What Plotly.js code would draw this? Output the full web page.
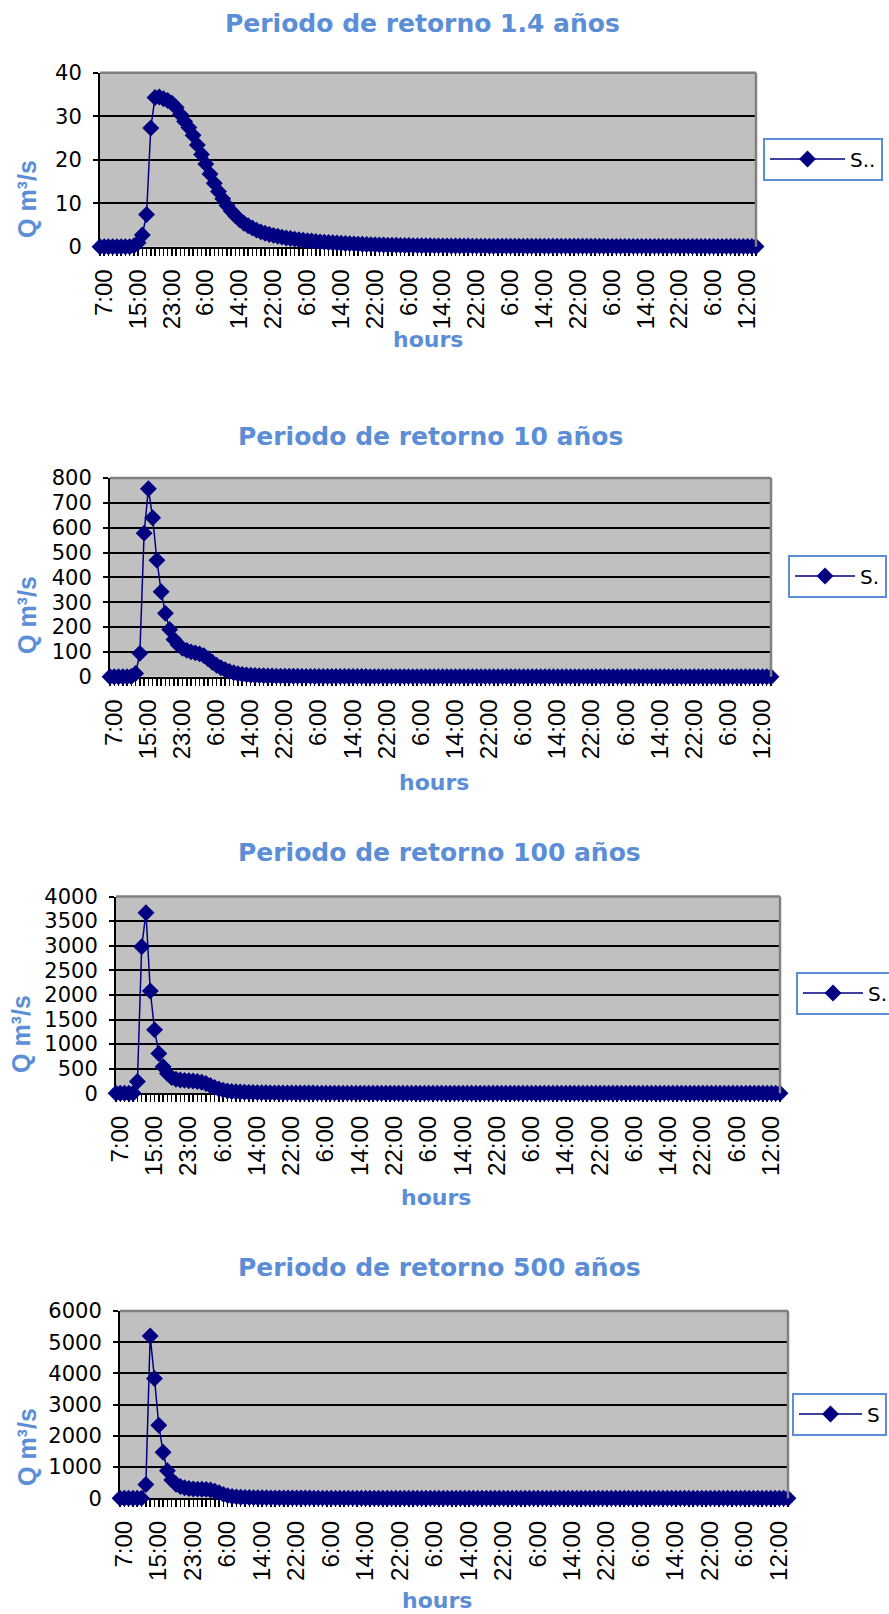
<!DOCTYPE html>
<html>
<head>
<meta charset="utf-8">
<script src="https://cdn.plot.ly/plotly-3.0.1.min.js"></script>
<style>html,body{margin:0;padding:0;background:#fff;overflow:hidden}#chart{width:889px;height:1614px}</style>
</head>
<body>
<div id="chart"></div>
<script>
// ---- data ----
const tickLabels = ['7:00','15:00','23:00','6:00','14:00','22:00','6:00','14:00','22:00','6:00',
                    '14:00','22:00','6:00','14:00','22:00','6:00','14:00','22:00','6:00','12:00'];
const tickStep = 8;

const chartTitles = ['Periodo de retorno 1.4 años','Periodo de retorno 10 años',
                     'Periodo de retorno 100 años','Periodo de retorno 500 años'];
const legendNames = ['S..','S.','S.','S'];
const yTitle = 'Q m³/s';
const xTitle = 'hours';

const q14 = [
 0,0,0,0,0,0,0,0,0.2,0.9,
 2.7,7.4,27.3,34.3,34.4,34.0,33.6,33.0,32.0,30.4,
 28.8,27.4,25.6,23.4,21.2,19.0,16.7,14.6,12.7,11.0,
 9.5,8.2,7.1,6.2,5.4,4.8,4.3,3.8,3.4,3.1,
 2.8,2.6,2.4,2.2,2.0,1.9,1.75,1.6,1.5,1.4,
 1.3,1.2,1.12,1.05,0.98,0.92,0.86,0.8,0.75,0.7,
 0.65,0.6,0.56,0.52,0.48,0.45,0.42,0.39,0.36,0.34,
 0.32,0.3,0.28,0.26,0.25,0.24,0.23,0.22,0.21,0.2,
 0.19,0.18,0.18,0.17,0.16,0.16,0.15,0.15,0.14,0.14,
 0.13,0.13,0.12,0.12,0.12,0.11,0.11,0.11,0.1,0.1,
 0.1,0.1,0.1,0.1,0.1,0.1,0.1,0.1,0.1,0.1,
 0.09,0.09,0.09,0.09,0.09,0.09,0.09,0.09,0.09,0.09,
 0.08,0.08,0.08,0.08,0.08,0.08,0.08,0.08,0.08,0.08,
 0.07,0.07,0.07,0.07,0.07,0.07,0.07,0.07,0.07,0.07,
 0.06,0.06,0.06,0.06,0.06,0.06,0.06,0.06,0.06,0.06,
 0.05,0.05,0.05,0.05,0.05,0.05
];

const q10 = [
 0,0,0,0,0,1,13,94,578,757,
 640,469,342,255,190,150,128,114,106,100,
 96,92,85,72,58,46,36,28,21,16,
 12,9.5,7.5,6,5,4.2,3.6,3.1,2.7,2.4,
 2.2,2.0,1.85,1.7,1.55,1.4,1.3,1.2,1.1,1.0,
 0.95,0.9,0.85,0.8,0.75,0.7,0.66,0.62,0.58,0.55,
 0.52,0.49,0.46,0.44,0.42,0.4,0.38,0.36,0.34,0.32,
 0.3,0.29,0.28,0.27,0.26,0.25,0.24,0.23,0.22,0.21,
 0.2,0.2,0.2,0.2,0.2,0.2,0.2,0.2,0.2,0.2,
 0.18,0.18,0.18,0.18,0.18,0.18,0.18,0.18,0.18,0.18,
 0.16,0.16,0.16,0.16,0.16,0.16,0.16,0.16,0.16,0.16,
 0.14,0.14,0.14,0.14,0.14,0.14,0.14,0.14,0.14,0.14,
 0.12,0.12,0.12,0.12,0.12,0.12,0.12,0.12,0.12,0.12,
 0.1,0.1,0.1,0.1,0.1,0.1,0.1,0.1,0.1,0.1,
 0.1,0.1,0.1,0.1,0.1,0.1,0.1,0.1,0.1,0.1,
 0.1,0.1,0.1,0.1,0.1,0.1
];

const q100 = [
 0,0,0,0,0,240,2980,3670,2080,1290,
 810,540,400,320,285,270,262,256,250,240,
 225,200,160,120,88,64,48,38,31,26,
 22,19,16,14,12,10.5,9.5,8.7,8,7.4,
 6.9,6.4,6,5.6,5.3,5,4.7,4.4,4.2,4,
 3.8,3.6,3.4,3.2,3.0,2.9,2.8,2.7,2.6,2.5,
 2.4,2.3,2.2,2.1,2.0,1.95,1.9,1.85,1.8,1.75,
 1.7,1.7,1.7,1.7,1.7,1.7,1.7,1.7,1.7,1.7,
 1.5,1.5,1.5,1.5,1.5,1.5,1.5,1.5,1.5,1.5,
 1.3,1.3,1.3,1.3,1.3,1.3,1.3,1.3,1.3,1.3,
 1.1,1.1,1.1,1.1,1.1,1.1,1.1,1.1,1.1,1.1,
 1.0,1.0,1.0,1.0,1.0,1.0,1.0,1.0,1.0,1.0,
 0.9,0.9,0.9,0.9,0.9,0.9,0.9,0.9,0.9,0.9,
 0.8,0.8,0.8,0.8,0.8,0.8,0.8,0.8,0.8,0.8,
 0.7,0.7,0.7,0.7,0.7,0.7,0.7,0.7,0.7,0.7,
 0.7,0.7,0.7,0.7,0.7,0.7
];

const q500 = [
 0,0,0,0,0,5,440,5200,3840,2340,
 1475,885,590,450,380,340,315,300,295,290,
 285,265,230,180,125,85,60,45,36,30,
 26,23,20,18,16,14.5,13,12,11,10.2,
 9.5,8.9,8.3,7.8,7.3,6.9,6.5,6.1,5.8,5.5,
 5.2,5,4.8,4.6,4.4,4.2,4,3.9,3.8,3.7,
 3.6,3.5,3.4,3.3,3.2,3.1,3,2.9,2.8,2.7,
 2.6,2.6,2.6,2.6,2.6,2.6,2.6,2.6,2.6,2.6,
 2.4,2.4,2.4,2.4,2.4,2.4,2.4,2.4,2.4,2.4,
 2.2,2.2,2.2,2.2,2.2,2.2,2.2,2.2,2.2,2.2,
 2.0,2.0,2.0,2.0,2.0,2.0,2.0,2.0,2.0,2.0,
 1.8,1.8,1.8,1.8,1.8,1.8,1.8,1.8,1.8,1.8,
 1.6,1.6,1.6,1.6,1.6,1.6,1.6,1.6,1.6,1.6,
 1.4,1.4,1.4,1.4,1.4,1.4,1.4,1.4,1.4,1.4,
 1.2,1.2,1.2,1.2,1.2,1.2,1.2,1.2,1.2,1.2,
 1.2,1.2,1.2,1.2,1.2,1.2
];

const yMax  = [40, 800, 4000, 6000];
const yStep = [10, 100, 500, 1000];
const series = [q14, q10, q100, q500];

// ---- layout geometry (pixels) ----
const W = 889, H = 1614;
const boxes = [
  {l:100, r:756, t:72.7,  b:246.7,  title:[422,23],   ytitle:[27,199],  xtitle:[428,340],  legend:[763,159],  legW:75},
  {l:110, r:771, t:478,   b:676.7,  title:[430,437],  ytitle:[27,615],  xtitle:[434,782],  legend:[788,576],  legW:60},
  {l:116, r:780, t:896.5, b:1093.3, title:[439,852],  ytitle:[21,1034], xtitle:[436,1197], legend:[796,993],  legW:60},
  {l:120, r:788, t:1311,  b:1498.3, title:[439,1267], ytitle:[27,1447], xtitle:[437,1600], legend:[792,1414], legW:63}
];

const NAVY = '#000080';
const BLUE = '#5b8ed6';
const tickVals = tickLabels.map((_, k) => k * tickStep);

const data = [];
const layout = {
  width: W, height: H,
  margin: {l:0, r:0, t:0, b:0, autoexpand: false},
  paper_bgcolor: '#ffffff',
  plot_bgcolor: '#c0c0c0',
  showlegend: true,
  shapes: [],
  annotations: []
};

boxes.forEach((bx, k) => {
  const sfx = k === 0 ? '' : String(k + 1);
  const ys = series[k];
  data.push({
    type: 'scatter',
    mode: 'lines+markers',
    y: ys,
    xaxis: 'x' + sfx,
    yaxis: 'y' + sfx,
    name: legendNames[k],
    legend: 'legend' + sfx,
    line: {color: NAVY, width: 1.5},
    marker: {symbol: 'diamond', size: 13, color: NAVY},
    cliponaxis: false,
    hoverinfo: 'y'
  });

  layout['xaxis' + sfx] = {
    domain: [bx.l / W, bx.r / W],
    anchor: 'y' + sfx,
    range: [0, ys.length - 1],
    tickmode: 'array',
    tickvals: tickVals,
    ticktext: tickLabels,
    tickangle: -90,
    ticks: 'outside', ticklen: 7, tickwidth: 1.5, tickcolor: '#000',
    minor: {tickmode: 'linear', tick0: 0, dtick: 1, ticks: 'outside', ticklen: 7, tickwidth: 1.5, tickcolor: '#000', showgrid: false},
    ticklabelstandoff: 4,
    ticklabelshift: 4,
    showgrid: false, zeroline: false,
    showline: true, linecolor: '#000', linewidth: 2,
    tickfont: {family: 'Liberation Sans, Arial, sans-serif', size: 24, color: '#000'},
    layer: 'below traces',
    fixedrange: true
  };
  layout['yaxis' + sfx] = {
    domain: [(H - bx.b) / H, (H - bx.t) / H],
    anchor: 'x' + sfx,
    range: [0, yMax[k]],
    tickmode: 'linear', tick0: 0, dtick: yStep[k],
    ticks: 'outside', ticklen: 5, tickwidth: 2, tickcolor: '#000',
    ticklabelstandoff: 7,
    showgrid: true, gridcolor: '#000', gridwidth: 2,
    zeroline: false,
    showline: true, linecolor: '#000', linewidth: 2,
    tickfont: {family: 'DejaVu Sans, sans-serif', size: 21, color: '#000'},
    layer: 'below traces',
    fixedrange: true
  };
  layout['legend' + sfx] = {
    x: bx.legend[0] / W, y: 1 - bx.legend[1] / H,
    xanchor: 'left', yanchor: 'middle',
    bgcolor: '#ffffff', bordercolor: BLUE, borderwidth: 2,
    itemwidth: bx.legW,
    font: {family: 'DejaVu Sans, sans-serif', size: 20, color: '#000'}
  };

  // gray plot-area border (top and right edges)
  layout.shapes.push(
    {type: 'line', xref: 'x' + sfx + ' domain', yref: 'y' + sfx + ' domain',
     x0: 0, x1: 1, y0: 1, y1: 1, line: {color: '#808080', width: 2.5}, layer: 'above'},
    {type: 'line', xref: 'x' + sfx + ' domain', yref: 'y' + sfx + ' domain',
     x0: 1, x1: 1, y0: 0, y1: 1, line: {color: '#808080', width: 2.5}, layer: 'above'}
  );

  layout.annotations.push(
    {text: '<b>' + chartTitles[k] + '</b>', xref: 'paper', yref: 'paper',
     x: bx.title[0] / W, y: 1 - bx.title[1] / H, xanchor: 'center', yanchor: 'middle',
     showarrow: false, font: {family: 'DejaVu Sans, sans-serif', size: 25, color: BLUE}},
    {text: '<b>' + yTitle + '</b>', xref: 'paper', yref: 'paper', textangle: -90,
     x: bx.ytitle[0] / W, y: 1 - bx.ytitle[1] / H, xanchor: 'center', yanchor: 'middle',
     showarrow: false, font: {family: 'Liberation Sans, Arial, sans-serif', size: 25, color: BLUE}},
    {text: '<b>' + xTitle + '</b>', xref: 'paper', yref: 'paper',
     x: bx.xtitle[0] / W, y: 1 - bx.xtitle[1] / H, xanchor: 'center', yanchor: 'middle',
     showarrow: false, font: {family: 'DejaVu Sans, sans-serif', size: 22, color: BLUE}}
  );
});

Plotly.newPlot('chart', data, layout, {staticPlot: true, displayModeBar: false});
</script>
</body>
</html>
